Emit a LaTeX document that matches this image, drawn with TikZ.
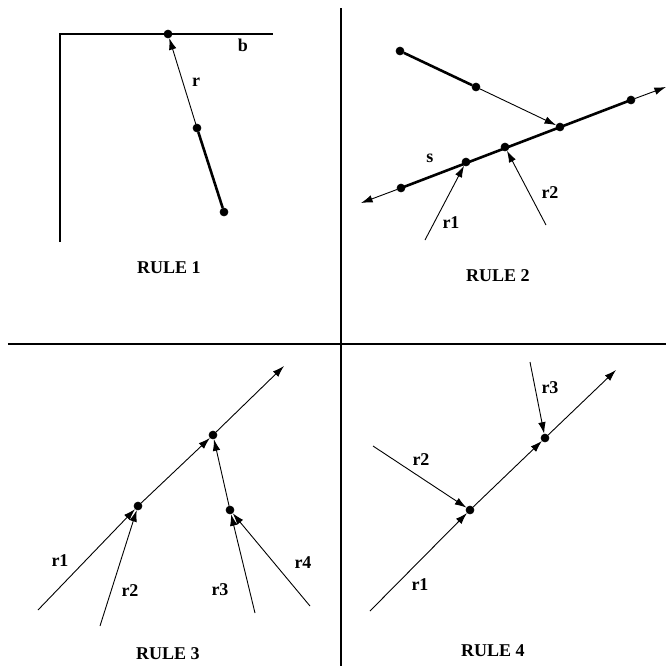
\documentclass[tikz,border=0pt]{standalone}
\usepackage{fontspec}
\setmainfont{Liberation Serif}
\usetikzlibrary{arrows.meta,positioning,calc}
\tikzstyle{dot} = [fill=black,inner sep=0mm,circle,draw,minimum size=3.9pt]
\tikzstyle{edge} = [line width=.45pt,-{Latex[length=5.8pt,width=3.8pt]}]
\tikzstyle{bar} = [line width=1.3pt]
\tikzstyle{label} = [font=\fontsize{9}{10}\selectfont\bfseries,inner sep=1pt]

\begin{document}
\begin{tikzpicture}[x=.5pt,y=-.5pt]
        \useasboundingbox (0,0) rectangle (666,666);

        % frame of the four panels
        \draw[bar] (8,344) to (666,344);
        \draw[bar] (341,8) to (341,666);

        % rule 1
        \draw[bar] (60,242) to (60,34) to (273,34);
        \node[dot] (a1) at (168,34) {};
        \node[dot] (a2) at (197,128) {};
        \node[dot] (a3) at (224,212) {};
        \draw[bar] (a3) to (a2);
        \draw[edge] (a2) to (a1);
        \node[label] (lr) at (196,82) {r};
        \node[label] (lb) at (243,45) {b};
        \node[label] (t1) at (169,268) {RULE 1};

        % rule 2
        \node[dot] (b1) at (400,51) {};
        \node[dot] (b2) at (476,87) {};
        \node[dot] (b3) at (560,127) {};
        \node[dot] (b4) at (631,100) {};
        \node[dot] (b5) at (505,147) {};
        \node[dot] (b6) at (466,162) {};
        \node[dot] (b7) at (401,188) {};
        \coordinate (sl) at (361,203);
        \coordinate (sr) at (666,87);
        \coordinate (q1) at (425,240);
        \coordinate (q2) at (546,225);
        \draw[bar] (b1) to (b2);
        \draw[edge] (b2) to (b3);
        \draw[bar] (b7.center) to (b4.center);
        \draw[edge] (b4) to (sr);
        \draw[edge] (b7) to (sl);
        \draw[edge] (q1) to (b6);
        \draw[edge] (q2) to (b5);
        \node[label] (ls) at (430,158) {s};
        \node[label] (lq1) at (451,223) {r1};
        \node[label] (lq2) at (550,193) {r2};
        \node[label] (t2) at (498,276) {RULE 2};

        % rule 3
        \node[dot] (c1) at (138,506) {};
        \node[dot] (c2) at (213,435) {};
        \node[dot] (c3) at (230,510) {};
        \coordinate (u1) at (38,610);
        \coordinate (u2) at (100,626);
        \coordinate (u3) at (255,613);
        \coordinate (u4) at (310,606);
        \coordinate (u5) at (284,366);
        \draw[edge] (u1) to (c1);
        \draw[edge] (u2) to (c1);
        \draw[edge] (u3) to (c3);
        \draw[edge] (u4) to (c3);
        \draw[edge] (c1) to (c2);
        \draw[edge] (c3) to (c2);
        \draw[edge] (c2) to (u5);
        \node[label] (lu1) at (60,561) {r1};
        \node[label] (lu2) at (130,591) {r2};
        \node[label] (lu3) at (220,590) {r3};
        \node[label] (lu4) at (303,563) {r4};
        \node[label] (t3) at (168,654) {RULE 3};

        % rule 4
        \node[dot] (d1) at (470,510) {};
        \node[dot] (d2) at (545,438) {};
        \coordinate (v1) at (370,611);
        \coordinate (v2) at (373,446);
        \coordinate (v3) at (530,362);
        \coordinate (v4) at (616,370);
        \draw[edge] (v1) to (d1);
        \draw[edge] (v2) to (d1);
        \draw[edge] (v3) to (d2);
        \draw[edge] (d1) to (d2);
        \draw[edge] (d2) to (v4);
        \node[label] (lv1) at (420,585) {r1};
        \node[label] (lv2) at (421,460) {r2};
        \node[label] (lv3) at (550,388) {r3};
        \node[label] (t4) at (493,651) {RULE 4};
    \end{tikzpicture}
\end{document}
